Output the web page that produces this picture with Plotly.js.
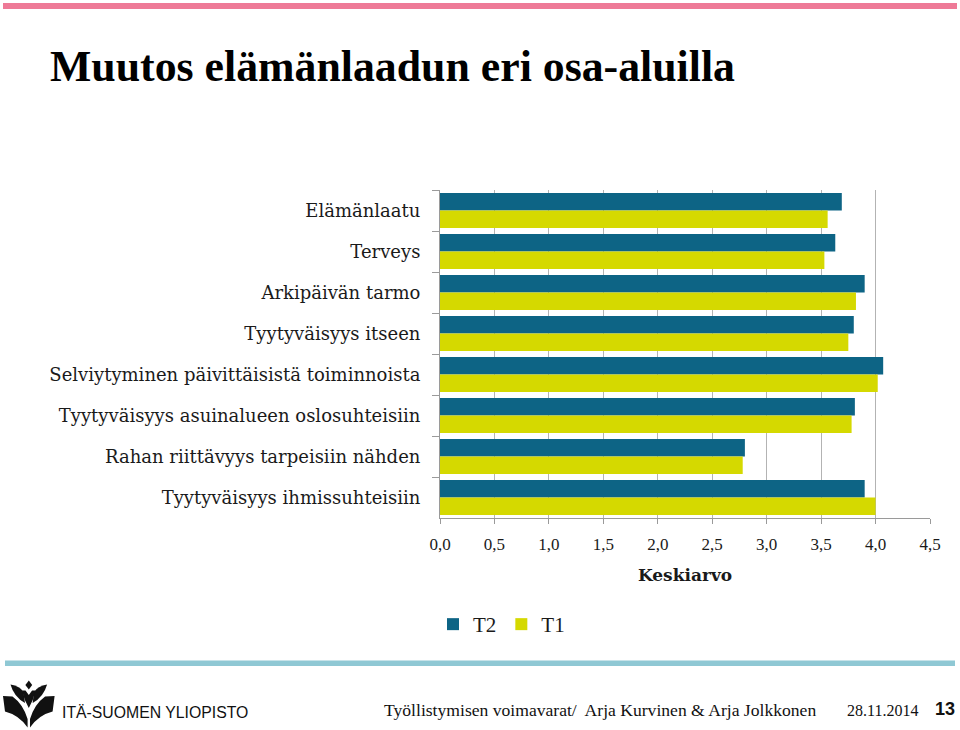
<!DOCTYPE html>
<html>
<head>
<meta charset="utf-8">
<script src="https://cdn.plot.ly/plotly-3.0.1.min.js"></script>
<style>
html,body{margin:0;padding:0;background:#ffffff;}
#chart{width:960px;height:730px;}
</style>
</head>
<body>
<div id="chart"></div>
<script>
// ---- data ----
const categories = [
  'Elämänlaatu',
  'Terveys',
  'Arkipäivän tarmo',
  'Tyytyväisyys itseen',
  'Selviytyminen päivittäisistä toiminnoista',
  'Tyytyväisyys asuinalueen oslosuhteisiin',
  'Rahan riittävyys tarpeisiin nähden',
  'Tyytyväisyys ihmissuhteisiin'
];
const seriesNames = ['T2', 'T1'];
const t2Values = [3.69, 3.63, 3.90, 3.80, 4.07, 3.81, 2.80, 3.90];
const t1Values = [3.56, 3.53, 3.82, 3.75, 4.02, 3.78, 2.78, 4.00];
const xTickValues = [0, 0.5, 1, 1.5, 2, 2.5, 3, 3.5, 4, 4.5];
const xTickLabels = ['0,0', '0,5', '1,0', '1,5', '2,0', '2,5', '3,0', '3,5', '4,0', '4,5'];
const chartTitle = 'Muutos elämänlaadun eri osa-aluilla';
const xAxisTitle = 'Keskiarvo';
const footerText = 'Työllistymisen voimavarat/  Arja Kurvinen & Arja Jolkkonen';
const footerDate = '28.11.2014';
const pageNumber = '13';
const logoText = 'ITÄ-SUOMEN YLIOPISTO';

// ---- geometry ----
const W = 960, H = 730, ML = 440, MR = 30, MT = 190, MB = 212;
const PW = W - ML - MR, PH = H - MT - MB;
const fx = x => (x - ML) / PW;
const fy = y => (H - MB - y) / PH;

const SERIF = '"Liberation Serif", "Times New Roman", serif';
const SERIF_WIDE = '"DejaVu Serif", "Liberation Serif", serif';
const SANS = '"Liberation Sans", Arial, sans-serif';
const TEAL = '#0d6485';
const LIME = '#d5d900';

function pathFromPixels(cmds) {
  return cmds.map(c => {
    const op = c[0];
    if (op === 'Z') return 'Z';
    const nums = [];
    for (let i = 1; i < c.length; i += 2) {
      nums.push(fx(c[i]).toFixed(5) + ',' + fy(c[i + 1]).toFixed(5));
    }
    return op + nums.join(' ');
  }).join(' ');
}
function mirror(cmds, cx) {
  return cmds.map(c => {
    if (c[0] === 'Z') return c;
    const out = [c[0]];
    for (let i = 1; i < c.length; i += 2) { out.push(2 * cx - c[i], c[i + 1]); }
    return out;
  });
}

const cx = 28.8;
const diamond = [['M', cx, 680.5], ['L', cx + 3.4, 685], ['L', cx, 689.5], ['L', cx - 3.4, 685], ['Z']];
const leafL = [['M', 10.5, 684.5], ['Q', 20, 686, 23.5, 692], ['L', 25, 703], ['Q', 14, 697, 10.5, 684.5], ['Z']];
const cup = [['M', 22, 690.5], ['L', 25.5, 690.5], ['L', cx, 695], ['L', 32.1, 690.5], ['L', 35.6, 690.5],
             ['Q', 33.5, 700, cx, 708], ['Q', 24.1, 700, 22, 690.5], ['Z']];
const pageL = [['M', 3, 696], ['L', 12.5, 696.5], ['Q', 23, 704, 27.6, 719], ['L', 27.6, 727.5],
               ['Q', 19, 715, 5, 711.5], ['Z']];

const logoShapes = [diamond, leafL, mirror(leafL, cx), cup, pageL, mirror(pageL, cx)].map(p => ({
  type: 'path', xref: 'paper', yref: 'paper', path: pathFromPixels(p),
  fillcolor: '#111111', line: {width: 0}
}));

const traces = [
  {type: 'bar', orientation: 'h', name: seriesNames[0], y: categories, x: t2Values,
   marker: {color: TEAL}, hoverinfo: 'x+y'},
  {type: 'bar', orientation: 'h', name: seriesNames[1], y: categories, x: t1Values,
   marker: {color: LIME}, hoverinfo: 'x+y'}
];

const layout = {
  width: W, height: H,
  margin: {l: ML, r: MR, t: MT, b: MB, pad: 0},
  paper_bgcolor: '#ffffff', plot_bgcolor: '#ffffff',
  barmode: 'group', bargap: 0.15, bargroupgap: 0,
  showlegend: true,
  title: {
    text: '<b>' + chartTitle + '</b>',
    xref: 'container', yref: 'container',
    x: 50 / W, xanchor: 'left', y: 1 - 66 / H, yanchor: 'middle',
    font: {family: SERIF, size: 43.8, color: '#000000'}
  },
  xaxis: {
    range: [0, 4.5], tickvals: xTickValues, ticktext: xTickLabels,
    showgrid: true, gridcolor: '#b3b3b3', gridwidth: 1, zeroline: false,
    showline: true, linecolor: '#9a9a9a', linewidth: 1,
    ticks: 'outside', ticklen: 5, tickcolor: '#9a9a9a',
    ticklabelstandoff: 6,
    tickfont: {family: SERIF, size: 17, color: '#1a1a1a'},
    title: {text: '<b>' + xAxisTitle + '</b>', standoff: 15,
            font: {family: SERIF_WIDE, size: 17, color: '#1a1a1a'}},
    fixedrange: true
  },
  yaxis: {
    type: 'category', autorange: 'reversed',
    tickson: 'boundaries', ticks: 'outside', ticklen: 7, tickcolor: '#9a9a9a',
    showline: true, linecolor: '#9a9a9a', linewidth: 1, showgrid: false,
    ticklabelstandoff: 15,
    tickfont: {family: SERIF_WIDE, size: 18, color: '#1a1a1a'},
    fixedrange: true
  },
  legend: {
    orientation: 'h', xref: 'paper', yref: 'paper',
    x: fx(433), xanchor: 'left', y: fy(604), yanchor: 'top',
    font: {family: SERIF, size: 21, color: '#1a1a1a'},
    itemwidth: 30, tracegroupgap: 0, bgcolor: 'rgba(0,0,0,0)'
  },
  shapes: [
    {type: 'rect', xref: 'paper', yref: 'paper', x0: fx(3), x1: fx(957), y0: fy(3), y1: fy(9),
     fillcolor: '#ee7a97', line: {width: 0}},
    {type: 'rect', xref: 'paper', yref: 'paper', x0: fx(5), x1: fx(955), y0: fy(660.5), y1: fy(666),
     fillcolor: '#8fc8d4', line: {width: 0}}
  ].concat(logoShapes),
  annotations: [
    {xref: 'paper', yref: 'paper', x: fx(60), y: fy(712), xanchor: 'left', yanchor: 'middle',
     text: logoText, showarrow: false,
     font: {family: SANS, size: 15.8, color: '#111111'}},
    {xref: 'paper', yref: 'paper', x: fx(382), y: fy(710), xanchor: 'left', yanchor: 'middle',
     text: footerText, showarrow: false,
     font: {family: SERIF, size: 17.6, color: '#111111'}},
    {xref: 'paper', yref: 'paper', x: fx(845), y: fy(710), xanchor: 'left', yanchor: 'middle',
     text: footerDate, showarrow: false,
     font: {family: SERIF, size: 16, color: '#111111'}},
    {xref: 'paper', yref: 'paper', x: fx(957), y: fy(709), xanchor: 'right', yanchor: 'middle',
     text: '<b>' + pageNumber + '</b>', showarrow: false,
     font: {family: SANS, size: 18, color: '#111111'}}
  ]
};

Plotly.newPlot('chart', traces, layout, {displayModeBar: false, staticPlot: true});
</script>
</body>
</html>
